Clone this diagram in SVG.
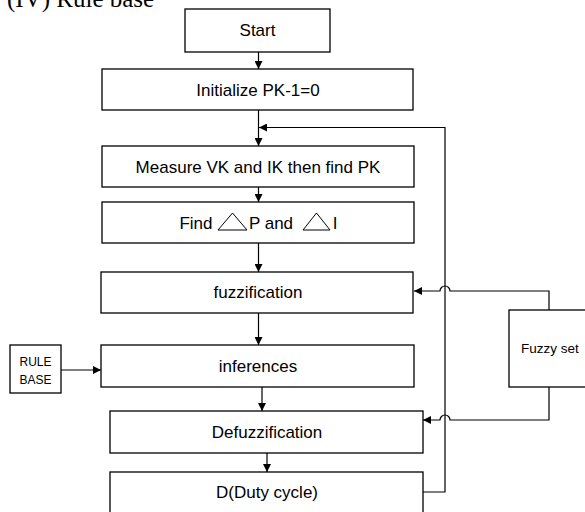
<svg xmlns="http://www.w3.org/2000/svg" width="585" height="512" viewBox="0 0 585 512">
<defs>
<style>
.box{fill:#fff;stroke:#000;stroke-width:1.3}
.t{font-family:"Liberation Sans",Arial,sans-serif;font-size:17px;fill:#000;text-anchor:middle}
.ts{font-family:"Liberation Sans",Arial,sans-serif;font-size:13.5px;fill:#000;text-anchor:middle}
.tr{font-family:"Liberation Sans",Arial,sans-serif;font-size:12px;fill:#000;text-anchor:middle}
.ln{fill:none;stroke:#000;stroke-width:1.2}
.tri{fill:none;stroke:#000;stroke-width:1}
</style>
<marker id="ah" viewBox="0 0 10 10" refX="10" refY="5" markerWidth="8" markerHeight="8" markerUnits="userSpaceOnUse" orient="auto">
<path d="M0,0 L10,5 L0,10 z" fill="#000"/>
</marker>
</defs>
<rect width="585" height="512" fill="#fff"/>
<text x="7" y="7" font-family="Liberation Serif,serif" font-size="25" fill="#000">(IV) Rule base</text>

<g id="start"><rect class="box" x="185" y="9" width="145" height="43"/><text class="t" x="257.5" y="36">Start</text></g>
<g id="init"><rect class="box" x="102" y="69" width="311" height="41"/><text class="t" x="258" y="96">Initialize PK-1=0</text></g>
<g id="measure"><rect class="box" x="102" y="146" width="312" height="41"/><text class="t" x="258" y="173">Measure VK and IK then find PK</text></g>
<g id="find"><rect class="box" x="102" y="202" width="312" height="41"/>
<text class="t" x="196" y="229">Find</text>
<polygon class="tri" points="218,230 247,230 232.5,213"/>
<text class="t" x="271" y="229">P and</text>
<polygon class="tri" points="303,230 330,230 316.5,213"/>
<text class="t" x="335" y="229">I</text></g>
<g id="fuzz"><rect class="box" x="101" y="272" width="312" height="41"/><text class="t" x="258" y="298">fuzzification</text></g>
<g id="inf"><rect class="box" x="101" y="345" width="313" height="42"/><text class="t" x="258" y="372">inferences</text></g>
<g id="defuzz"><rect class="box" x="110" y="411" width="313" height="42"/><text class="t" x="267" y="438">Defuzzification</text></g>
<g id="duty"><rect class="box" x="110" y="472" width="313" height="50"/><text class="t" x="267" y="498">D(Duty cycle)</text></g>
<g id="rule"><rect class="box" x="10" y="345" width="51" height="48"/><text class="tr" x="35.5" y="366">RULE</text><text class="tr" x="35.5" y="384">BASE</text></g>
<g id="fuzzyset"><rect class="box" x="509" y="310" width="80" height="77"/><text class="ts" x="550" y="353">Fuzzy set</text></g>

<g id="connectors">
<line class="ln" x1="258.5" y1="52" x2="258.5" y2="69" marker-end="url(#ah)"/>
<line class="ln" x1="258.5" y1="110" x2="258.5" y2="146" marker-end="url(#ah)"/>
<line class="ln" x1="258.5" y1="187" x2="258.5" y2="202" marker-end="url(#ah)"/>
<line class="ln" x1="258.5" y1="243" x2="258.5" y2="272" marker-end="url(#ah)"/>
<line class="ln" x1="258.5" y1="313" x2="258.5" y2="345" marker-end="url(#ah)"/>
<line class="ln" x1="262" y1="387" x2="262" y2="411" marker-end="url(#ah)"/>
<line class="ln" x1="267" y1="453" x2="267" y2="472" marker-end="url(#ah)"/>
<line class="ln" x1="61" y1="370" x2="101" y2="370" marker-end="url(#ah)"/>
<path class="ln" d="M423,492 H445 V127.5 H259" marker-end="url(#ah)"/>
<path class="ln" d="M549,310 V291 H450 A5,5 0 0 0 440,291 H414" marker-end="url(#ah)"/>
<path class="ln" d="M549,387 V420 H450 A5,5 0 0 0 440,420 H423" marker-end="url(#ah)"/>
</g>
</svg>
